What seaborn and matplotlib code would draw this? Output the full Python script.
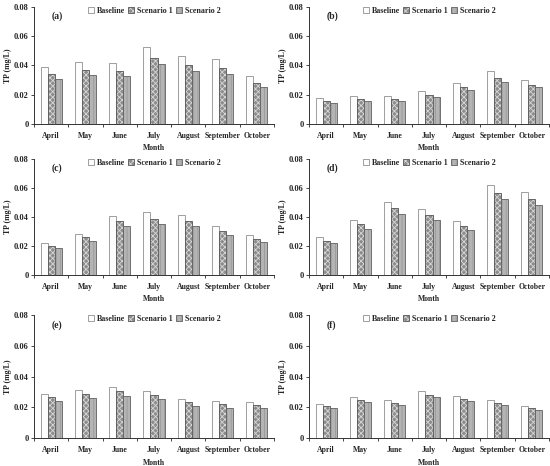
import numpy as np
import pandas as pd
import matplotlib
matplotlib.use("Agg")
import matplotlib.pyplot as plt
import seaborn as sns

months = ["April", "May", "June", "July", "August", "September", "October"]
scenarios = ["Baseline", "Scenario 1", "Scenario 2"]
panel_labels = ["(a)", "(b)", "(c)", "(d)", "(e)", "(f)"]

a_base = [0.0391, 0.0425, 0.0418, 0.0523, 0.0464, 0.0441, 0.0327]
a_s1 = [0.0341, 0.0368, 0.0361, 0.0452, 0.0402, 0.0380, 0.0277]
a_s2 = [0.0305, 0.0334, 0.0327, 0.0409, 0.0364, 0.0345, 0.0255]

b_base = [0.0180, 0.0191, 0.0193, 0.0223, 0.0280, 0.0359, 0.0300]
b_s1 = [0.0159, 0.0170, 0.0170, 0.0195, 0.0250, 0.0314, 0.0268]
b_s2 = [0.0145, 0.0157, 0.0157, 0.0182, 0.0232, 0.0289, 0.0250]

c_base = [0.0217, 0.0284, 0.0409, 0.0435, 0.0412, 0.0338, 0.0277]
c_s1 = [0.0199, 0.0259, 0.0370, 0.0388, 0.0375, 0.0301, 0.0245]
c_s2 = [0.0183, 0.0234, 0.0338, 0.0354, 0.0338, 0.0277, 0.0227]

d_base = [0.0261, 0.0381, 0.0503, 0.0453, 0.0370, 0.0621, 0.0573]
d_s1 = [0.0233, 0.0349, 0.0464, 0.0413, 0.0340, 0.0568, 0.0527]
d_s2 = [0.0219, 0.0319, 0.0423, 0.0381, 0.0310, 0.0524, 0.0483]

e_base = [0.0286, 0.0312, 0.0329, 0.0308, 0.0254, 0.0239, 0.0237]
e_s1 = [0.0265, 0.0286, 0.0303, 0.0282, 0.0232, 0.0222, 0.0217]
e_s2 = [0.0243, 0.0260, 0.0275, 0.0254, 0.0211, 0.0196, 0.0194]

f_base = [0.0221, 0.0269, 0.0247, 0.0303, 0.0275, 0.0247, 0.0209]
f_s1 = [0.0208, 0.0247, 0.0228, 0.0282, 0.0254, 0.0228, 0.0196]
f_s2 = [0.0196, 0.0232, 0.0215, 0.0265, 0.0239, 0.0215, 0.0183]

panels = [
    (a_base, a_s1, a_s2), (b_base, b_s1, b_s2),
    (c_base, c_s1, c_s2), (d_base, d_s1, d_s2),
    (e_base, e_s1, e_s2), (f_base, f_s1, f_s2),
]

yticks = [0, 0.02, 0.04, 0.06, 0.08]
ytick_labels = ["0", "0.02", "0.04", "0.06", "0.08"]

sns.set_theme(style="ticks")
plt.rcParams["font.family"] = ["Liberation Serif", "DejaVu Serif"]
plt.rcParams["font.weight"] = "bold"
plt.rcParams["hatch.linewidth"] = 0.6

fig = plt.figure(figsize=(5.5, 4.66), dpi=100)

rows = [(0.734, 0.251), (0.410, 0.249), (0.060, 0.264)]
cols = [(0.062, 0.436), (0.562, 0.436)]

faces = ["#fdfdfd", "#8c8c8c", "#b4b4b4"]
edges = ["#909090", "#555555", "#606060"]
hatches = ["", "xxxxxx", "||||"]
hatch_cols = ["#909090", "#d8d8d8", "#9a9a9a"]

fs_x = 5.6
fs_y = 6.0
fs_leg = 5.8
for i, (vals, lab) in enumerate(zip(panels, panel_labels)):
    r, c = divmod(i, 2)
    ax = fig.add_axes([cols[c][0], rows[r][0], cols[c][1], rows[r][1]])
    df = pd.DataFrame({
        "Month": months * 3,
        "TP": list(vals[0]) + list(vals[1]) + list(vals[2]),
        "Scenario": [s for s in scenarios for _ in months],
    })
    sns.barplot(data=df, x="Month", y="TP", hue="Scenario", order=months,
                hue_order=scenarios, palette=faces, width=0.62, ax=ax,
                saturation=1, legend=False, errorbar=None)
    handles = []
    for k, cont in enumerate(ax.containers):
        for p in cont.patches:
            p.set_facecolor(faces[k])
            p.set_edgecolor(edges[k])
            p.set_linewidth(0.6)
            if hatches[k]:
                p.set_hatch(hatches[k])
                p._hatch_color = matplotlib.colors.to_rgba(hatch_cols[k])
        handles.append(cont.patches[0])
    ax.set_ylim(0, 0.08)
    ax.set_xlim(-0.5, 6.5)
    ax.set_yticks(yticks)
    ax.set_yticklabels(ytick_labels, fontsize=fs_y, fontweight="bold")
    ax.set_xticks(np.arange(-0.5, 7.0, 1.0))
    ax.set_xticklabels([""] * 8)
    ax.set_xticks(np.arange(7), minor=True)
    ax.set_xticklabels(months, minor=True, fontsize=fs_x, fontweight="bold")
    ax.tick_params(axis="x", which="minor", length=0, pad=6)
    ax.tick_params(axis="x", which="major", length=2.5, width=0.6, direction="out")
    ax.tick_params(axis="y", length=2.5, width=0.6, pad=1.5)
    for s in ["top", "right"]:
        ax.spines[s].set_visible(False)
    for s in ["left", "bottom"]:
        ax.spines[s].set_linewidth(0.7)
        ax.spines[s].set_color("#333333")
    ax.set_xlabel("Month", fontsize=fs_x, fontweight="bold", labelpad=3)
    ax.set_ylabel("TP (mg/L)", fontsize=fs_x, fontweight="bold", labelpad=1.5)
    ax.text(0.075, 0.92, lab, transform=ax.transAxes, fontsize=7,
            fontweight="bold", va="center")
    leg = ax.legend(handles, scenarios, loc="upper center",
                    bbox_to_anchor=(0.5, 1.04), ncol=3, frameon=False,
                    fontsize=fs_leg, handlelength=0.8, handleheight=0.8,
                    handletextpad=0.3, columnspacing=0.4, borderaxespad=0.2)
    for t in leg.get_texts():
        t.set_fontweight("bold")

fig.savefig("out.png", dpi=100)
